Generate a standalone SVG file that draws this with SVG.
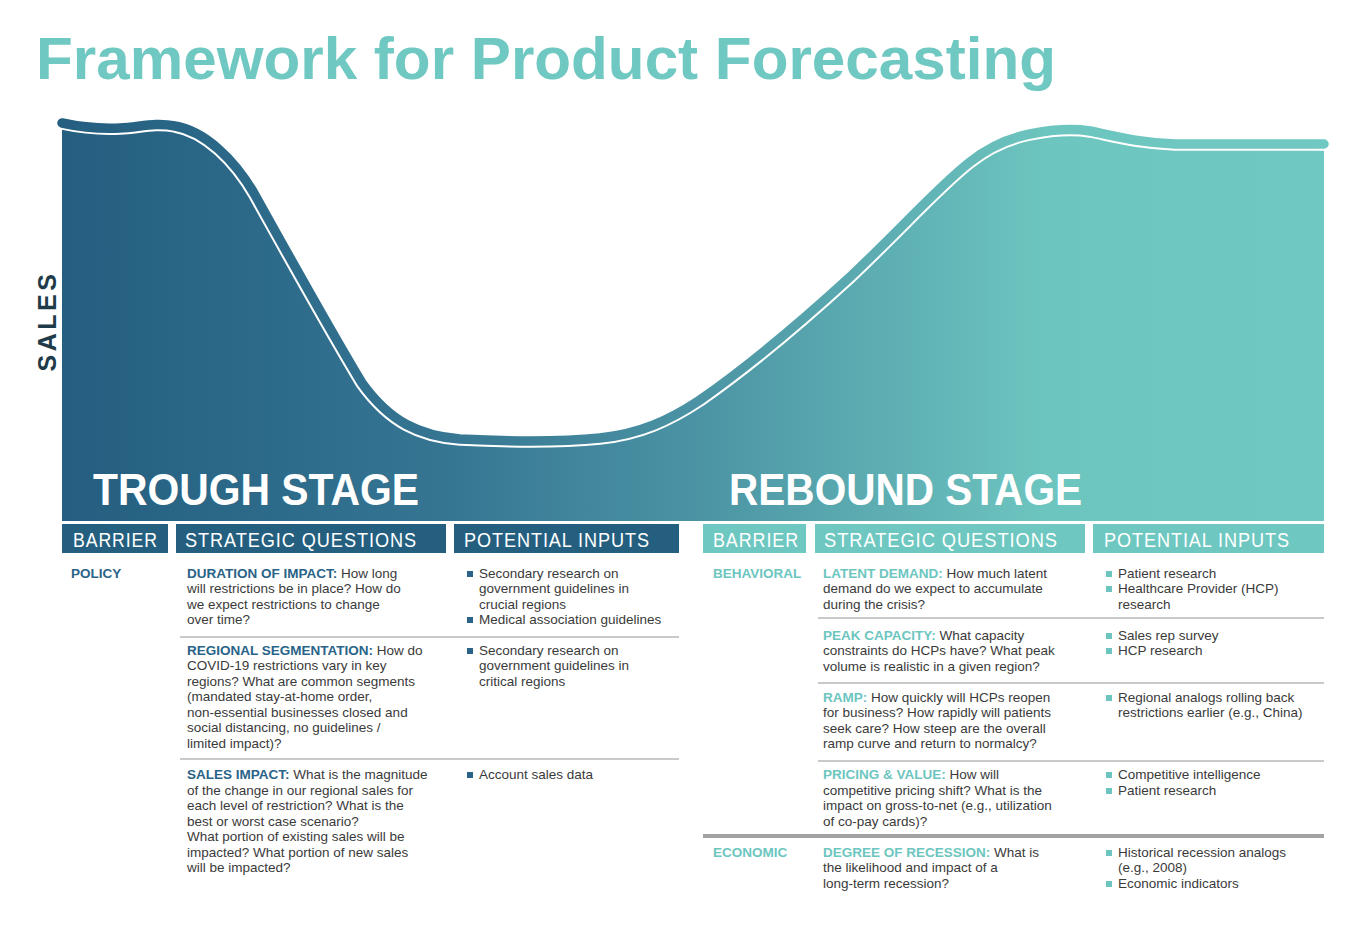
<svg xmlns="http://www.w3.org/2000/svg" width="1366" height="934" viewBox="0 0 1366 934">
<defs>
<linearGradient id="grad" gradientUnits="userSpaceOnUse" x1="62" y1="0" x2="1324" y2="0">
<stop offset="0" stop-color="#245e80"/>
<stop offset="0.3" stop-color="#357592"/>
<stop offset="0.5" stop-color="#4b93a4"/>
<stop offset="0.78" stop-color="#6dc5bf"/>
<stop offset="1" stop-color="#6fc9c2"/>
</linearGradient>
<path id="curve" d="M62,123 C85,128 100,129 120,128 C140,127 155,122 175,126 C205,131 235,160 255,195 C290,258 330,330 362,383 C390,422 420,436 460,439 C500,441 560,442 600,438 C640,434 670,420 700,400 C740,372 790,332 850,277 C900,230 940,185 970,162 C990,146 1010,138 1030,134 C1050,130 1070,128 1090,131 C1115,136 1140,143 1175,144 L1324,144"/>
<style>
.body{font-family:"Liberation Sans",Arial,sans-serif;font-size:13.5px;fill:#3a3a3a}
.hd{font-family:"Liberation Sans",Arial,sans-serif;font-size:19.5px;fill:#ffffff;letter-spacing:1px}
.stage{font-family:"Liberation Sans",Arial,sans-serif;font-size:44px;font-weight:bold;fill:#ffffff}
.lb{font-weight:bold;fill:#2a6388}
.tb{font-weight:bold;fill:#6cc6bf}
.sep{stroke:#c9c9c9;stroke-width:2}
.bl{fill:#2a6388}
.bt{fill:#6cc6bf}
</style>
</defs>
<rect width="1366" height="934" fill="#ffffff"/>
<text x="36" y="79" font-family="Liberation Sans,Arial,sans-serif" font-size="60" font-weight="bold" fill="#6fc8c1" textLength="1020" lengthAdjust="spacingAndGlyphs">Framework for Product Forecasting</text>
<g id="chart">
<path d="M62,123 C85,128 100,129 120,128 C140,127 155,122 175,126 C205,131 235,160 255,195 C290,258 330,330 362,383 C390,422 420,436 460,439 C500,441 560,442 600,438 C640,434 670,420 700,400 C740,372 790,332 850,277 C900,230 940,185 970,162 C990,146 1010,138 1030,134 C1050,130 1070,128 1090,131 C1115,136 1140,143 1175,144 L1324,144 L1324,521 L62,521 Z" fill="url(#grad)"/>
<use href="#curve" fill="none" stroke="#ffffff" stroke-width="13.5"/>
<use href="#curve" fill="none" stroke="url(#grad)" stroke-width="9.5" stroke-linecap="round"/>
<text x="56" y="321" font-family="Liberation Sans,Arial,sans-serif" font-size="25" font-weight="bold" fill="#1f3b49" letter-spacing="3.5" text-anchor="middle" transform="rotate(-90 56 321)">SALES</text>
<text class="stage" x="93" y="505" textLength="326" lengthAdjust="spacingAndGlyphs">TROUGH STAGE</text>
<text class="stage" x="729" y="505" textLength="353" lengthAdjust="spacingAndGlyphs">REBOUND STAGE</text>
</g>
<g id="trough-headers">
<rect x="62" y="524" width="106" height="29" fill="#245f80"/>
<rect x="176" y="524" width="270" height="29" fill="#245f80"/>
<rect x="454" y="524" width="225" height="29" fill="#245f80"/>
<text class="hd" x="73" y="547" textLength="85" lengthAdjust="spacingAndGlyphs">BARRIER</text>
<text class="hd" x="185" y="547" textLength="232" lengthAdjust="spacingAndGlyphs">STRATEGIC QUESTIONS</text>
<text class="hd" x="464" y="547" textLength="186" lengthAdjust="spacingAndGlyphs">POTENTIAL INPUTS</text>
</g>
<g id="rebound-headers">
<rect x="703" y="524" width="103" height="29" fill="#6ec8c1"/>
<rect x="815" y="524" width="270" height="29" fill="#6ec8c1"/>
<rect x="1093" y="524" width="231" height="29" fill="#6ec8c1"/>
<text class="hd" x="713" y="547" textLength="86" lengthAdjust="spacingAndGlyphs">BARRIER</text>
<text class="hd" x="824" y="547" textLength="234" lengthAdjust="spacingAndGlyphs">STRATEGIC QUESTIONS</text>
<text class="hd" x="1104" y="547" textLength="186" lengthAdjust="spacingAndGlyphs">POTENTIAL INPUTS</text>
</g>
<g id="connectors">
<line class="sep" x1="180" y1="637" x2="679" y2="637"/>
<line class="sep" x1="180" y1="759" x2="679" y2="759"/>
<line class="sep" x1="818" y1="618" x2="1324" y2="618"/>
<line class="sep" x1="818" y1="683" x2="1324" y2="683"/>
<line class="sep" x1="818" y1="761" x2="1324" y2="761"/>
<line x1="703" y1="836" x2="1324" y2="836" stroke="#a3a3a3" stroke-width="4"/>
</g>
<g id="policy">
<text class="body" x="71" y="578"><tspan class="lb">POLICY</tspan></text>
<text class="body" x="187" y="578"><tspan class="lb">DURATION OF IMPACT:</tspan> How long</text>
<text class="body" x="187" y="593">will restrictions be in place? How do</text>
<text class="body" x="187" y="609">we expect restrictions to change</text>
<text class="body" x="187" y="624">over time?</text>
<rect class="bl" x="467" y="571" width="6" height="6"/>
<text class="body" x="479" y="578">Secondary research on</text>
<text class="body" x="479" y="593">government guidelines in</text>
<text class="body" x="479" y="609">crucial regions</text>
<rect class="bl" x="467" y="617" width="6" height="6"/>
<text class="body" x="479" y="624">Medical association guidelines</text>
</g>
<g id="regional">
<text class="body" x="187" y="655"><tspan class="lb">REGIONAL SEGMENTATION:</tspan> How do</text>
<text class="body" x="187" y="670">COVID-19 restrictions vary in key</text>
<text class="body" x="187" y="686">regions? What are common segments</text>
<text class="body" x="187" y="701">(mandated stay-at-home order,</text>
<text class="body" x="187" y="717">non-essential businesses closed and</text>
<text class="body" x="187" y="732">social distancing, no guidelines /</text>
<text class="body" x="187" y="748">limited impact)?</text>
<rect class="bl" x="467" y="648" width="6" height="6"/>
<text class="body" x="479" y="655">Secondary research on</text>
<text class="body" x="479" y="670">government guidelines in</text>
<text class="body" x="479" y="686">critical regions</text>
</g>
<g id="sales-impact">
<text class="body" x="187" y="779"><tspan class="lb">SALES IMPACT:</tspan> What is the magnitude</text>
<text class="body" x="187" y="795">of the change in our regional sales for</text>
<text class="body" x="187" y="810">each level of restriction? What is the</text>
<text class="body" x="187" y="826">best or worst case scenario?</text>
<text class="body" x="187" y="841">What portion of existing sales will be</text>
<text class="body" x="187" y="857">impacted? What portion of new sales</text>
<text class="body" x="187" y="872">will be impacted?</text>
<rect class="bl" x="467" y="772" width="6" height="6"/>
<text class="body" x="479" y="779">Account sales data</text>
</g>
<g id="latent-demand">
<text class="body" x="713" y="578"><tspan class="tb">BEHAVIORAL</tspan></text>
<text class="body" x="823" y="578"><tspan class="tb">LATENT DEMAND:</tspan> How much latent</text>
<text class="body" x="823" y="593">demand do we expect to accumulate</text>
<text class="body" x="823" y="609">during the crisis?</text>
<rect class="bt" x="1106" y="571" width="6" height="6"/>
<text class="body" x="1118" y="578">Patient research</text>
<rect class="bt" x="1106" y="586" width="6" height="6"/>
<text class="body" x="1118" y="593">Healthcare Provider (HCP)</text>
<text class="body" x="1118" y="609">research</text>
</g>
<g id="peak-capacity">
<text class="body" x="823" y="640"><tspan class="tb">PEAK CAPACITY:</tspan> What capacity</text>
<text class="body" x="823" y="655">constraints do HCPs have? What peak</text>
<text class="body" x="823" y="671">volume is realistic in a given region?</text>
<rect class="bt" x="1106" y="633" width="6" height="6"/>
<text class="body" x="1118" y="640">Sales rep survey</text>
<rect class="bt" x="1106" y="648" width="6" height="6"/>
<text class="body" x="1118" y="655">HCP research</text>
</g>
<g id="ramp">
<text class="body" x="823" y="702"><tspan class="tb">RAMP:</tspan> How quickly will HCPs reopen</text>
<text class="body" x="823" y="717">for business? How rapidly will patients</text>
<text class="body" x="823" y="733">seek care? How steep are the overall</text>
<text class="body" x="823" y="748">ramp curve and return to normalcy?</text>
<rect class="bt" x="1106" y="695" width="6" height="6"/>
<text class="body" x="1118" y="702">Regional analogs rolling back</text>
<text class="body" x="1118" y="717">restrictions earlier (e.g., China)</text>
</g>
<g id="pricing">
<text class="body" x="823" y="779"><tspan class="tb">PRICING &amp; VALUE:</tspan> How will</text>
<text class="body" x="823" y="795">competitive pricing shift? What is the</text>
<text class="body" x="823" y="810">impact on gross-to-net (e.g., utilization</text>
<text class="body" x="823" y="826">of co-pay cards)?</text>
<rect class="bt" x="1106" y="772" width="6" height="6"/>
<text class="body" x="1118" y="779">Competitive intelligence</text>
<rect class="bt" x="1106" y="788" width="6" height="6"/>
<text class="body" x="1118" y="795">Patient research</text>
</g>
<g id="recession">
<text class="body" x="713" y="857"><tspan class="tb">ECONOMIC</tspan></text>
<text class="body" x="823" y="857"><tspan class="tb">DEGREE OF RECESSION:</tspan> What is</text>
<text class="body" x="823" y="872">the likelihood and impact of a</text>
<text class="body" x="823" y="888">long-term recession?</text>
<rect class="bt" x="1106" y="850" width="6" height="6"/>
<text class="body" x="1118" y="857">Historical recession analogs</text>
<text class="body" x="1118" y="872">(e.g., 2008)</text>
<rect class="bt" x="1106" y="881" width="6" height="6"/>
<text class="body" x="1118" y="888">Economic indicators</text>
</g>
</svg>
